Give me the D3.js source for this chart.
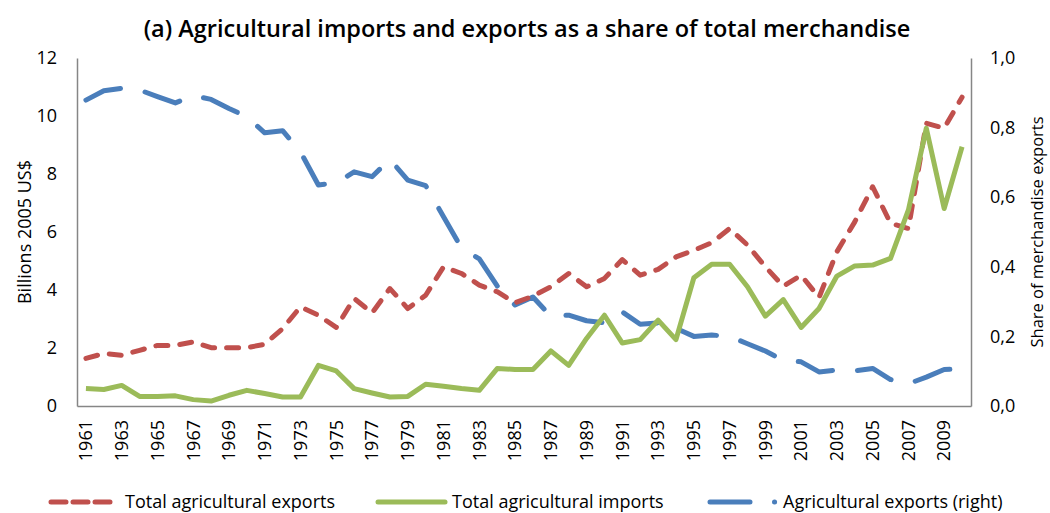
<!DOCTYPE html>
<html>
<head>
<meta charset="utf-8">
<script src="https://cdn.jsdelivr.net/npm/d3@7"></script>
<style>
    body { margin: 0; background: #fff; }
    text { font-family: "Open Sans", Lato, sans-serif; fill: #000; }
</style>
</head>
<body>
<svg></svg>
<script>
let years = [1961, 1962, 1963, 1964, 1965, 1966, 1967, 1968, 1969, 1970,
    1971, 1972, 1973, 1974, 1975, 1976, 1977, 1978, 1979, 1980,
    1981, 1982, 1983, 1984, 1985, 1986, 1987, 1988, 1989, 1990,
    1991, 1992, 1993, 1994, 1995, 1996, 1997, 1998, 1999, 2000,
    2001, 2002, 2003, 2004, 2005, 2006, 2007, 2008, 2009, 2010];

let exportsTotal = [1.64, 1.81, 1.75, 1.92, 2.09, 2.09, 2.21, 2.01, 2.01, 2.01,
    2.13, 2.67, 3.42, 3.13, 2.71, 3.71, 3.21, 4.05, 3.36, 3.82,
    4.80, 4.57, 4.17, 3.94, 3.56, 3.79, 4.11, 4.57, 4.11, 4.40,
    5.05, 4.51, 4.71, 5.14, 5.37, 5.63, 6.12, 5.55, 4.80, 4.13,
    4.51, 3.74, 5.32, 6.35, 7.56, 6.30, 6.12, 9.75, 9.58, 10.65];

let importsTotal = [0.60, 0.57, 0.71, 0.33, 0.33, 0.35, 0.22, 0.17, 0.37, 0.54,
    0.43, 0.31, 0.31, 1.40, 1.21, 0.60, 0.45, 0.31, 0.33, 0.75,
    0.68, 0.60, 0.54, 1.29, 1.26, 1.26, 1.90, 1.40, 2.33, 3.13,
    2.17, 2.29, 2.96, 2.29, 4.42, 4.89, 4.89, 4.11, 3.10, 3.67,
    2.71, 3.36, 4.48, 4.83, 4.86, 5.09, 6.76, 9.58, 6.81, 8.94];

let exportShare = [0.879, 0.906, 0.913, 0.908, 0.889, 0.871, 0.892, 0.881, 0.855, 0.831,
    0.785, 0.791, 0.730, 0.635, 0.641, 0.673, 0.659, 0.709, 0.649, 0.633,
    0.544, 0.454, 0.423, 0.345, 0.290, 0.313, 0.258, 0.261, 0.245, 0.239,
    0.270, 0.235, 0.239, 0.223, 0.200, 0.204, 0.200, 0.179, 0.158, 0.131,
    0.127, 0.098, 0.103, 0.101, 0.108, 0.076, 0.064, 0.083, 0.105, 0.106];

let leftTicks = [0, 2, 4, 6, 8, 10, 12];
let rightTicks = [0, 0.2, 0.4, 0.6, 0.8, 1.0];
let yearLabels = years.filter((d, i) => i % 2 == 0);

let title = "(a) Agricultural imports and exports as a share of total merchandise";
let legendNames = ["Total agricultural exports", "Total agricultural imports", "Agricultural exports (right)"];

let width = 1050, height = 513;
let margin = { top: 58, right: 79, bottom: 107, left: 77 };
let red = "#c0504d", green = "#9bbb59", blue = "#4a7ebb", axisGrey = "#868686";
let labelSize = "18px";

let svg = d3.select("svg").attr("width", width).attr("height", height);

let x = d3.scaleBand().domain(years).range([margin.left, width - margin.right]);
let yLeft = d3.scaleLinear().domain([0, 12]).range([height - margin.bottom, margin.top]);
let yRight = d3.scaleLinear().domain([0, 1]).range([height - margin.bottom, margin.top]);
let cx = (d) => x(d) + x.bandwidth() / 2;

svg.append("text")
    .attr("x", 527).attr("y", 37)
    .attr("text-anchor", "middle")
    .style("font-size", "23.5px").style("font-weight", 600)
    .text(title);

let leftAxis = svg.append("g")
    .attr("transform", `translate(${margin.left},0)`)
    .call(d3.axisLeft(yLeft).tickValues(leftTicks).tickSize(0).tickPadding(20));
let rightAxis = svg.append("g")
    .attr("transform", `translate(${width - margin.right},0)`)
    .call(d3.axisRight(yRight).tickValues(rightTicks).tickSize(0).tickPadding(19)
        .tickFormat((d) => d3.format(".1f")(d).replace(".", ",")));
let bottomAxis = svg.append("g")
    .attr("transform", `translate(0,${height - margin.bottom})`)
    .call(d3.axisBottom(x).tickValues(yearLabels).tickSize(0));

bottomAxis.selectAll("text")
    .attr("transform", "rotate(-90)")
    .attr("x", -14).attr("y", 0).attr("dy", "0.35em")
    .style("text-anchor", "end");

[leftAxis, rightAxis, bottomAxis].forEach((g) => {
    g.select(".domain").attr("stroke", axisGrey).attr("stroke-width", 1.5);
    g.selectAll("text").style("font-size", labelSize).style("font-family", "'Open Sans', sans-serif").attr("fill", "#000");
});

svg.append("text")
    .attr("transform", `translate(31,${(margin.top + height - margin.bottom) / 2}) rotate(-90)`)
    .attr("text-anchor", "middle")
    .style("font-size", labelSize)
    .text("Billions 2005 US$");
svg.append("text")
    .attr("transform", `translate(1043,${(margin.top + height - margin.bottom) / 2}) rotate(-90)`)
    .attr("text-anchor", "middle")
    .style("font-size", "16.5px")
    .text("Share of merchandise exports");

let lineLeft = d3.line().x((d, i) => cx(years[i])).y((d) => yLeft(d));
let lineRight = d3.line().x((d, i) => cx(years[i])).y((d) => yRight(d));

let series = svg.append("g")
    .style("fill", "none")
    .style("stroke-width", 5)
    .style("stroke-linecap", "round")
    .style("stroke-linejoin", "round");

series.append("path")
    .attr("d", lineRight(exportShare))
    .style("stroke", blue)
    .style("stroke-dasharray", "37,25");
series.append("path")
    .attr("d", lineLeft(exportsTotal))
    .style("stroke", red)
    .style("stroke-dasharray", "12,12");
series.append("path")
    .attr("d", lineLeft(importsTotal))
    .style("stroke", green)
    .style("stroke-linecap", "butt");

let legend = svg.append("g")
    .style("fill", "none")
    .style("stroke-width", 5)
    .style("stroke-linecap", "round");
let legendY = 502;

legend.append("line")
    .attr("x1", 51).attr("x2", 110).attr("y1", legendY).attr("y2", legendY)
    .style("stroke", red).style("stroke-dasharray", "15,7");
legend.append("line")
    .attr("x1", 378).attr("x2", 445).attr("y1", legendY).attr("y2", legendY)
    .style("stroke", green);
legend.append("line")
    .attr("x1", 710).attr("x2", 775).attr("y1", legendY).attr("y2", legendY)
    .style("stroke", blue).style("stroke-dasharray", "40,24.5,0.1,50");

let legendText = [125, 452, 783];
legendNames.forEach((name, i) => {
    svg.append("text")
        .attr("x", legendText[i]).attr("y", legendY).attr("dy", "0.35em")
        .style("font-size", labelSize)
        .text(name);
});
</script>
</body>
</html>
